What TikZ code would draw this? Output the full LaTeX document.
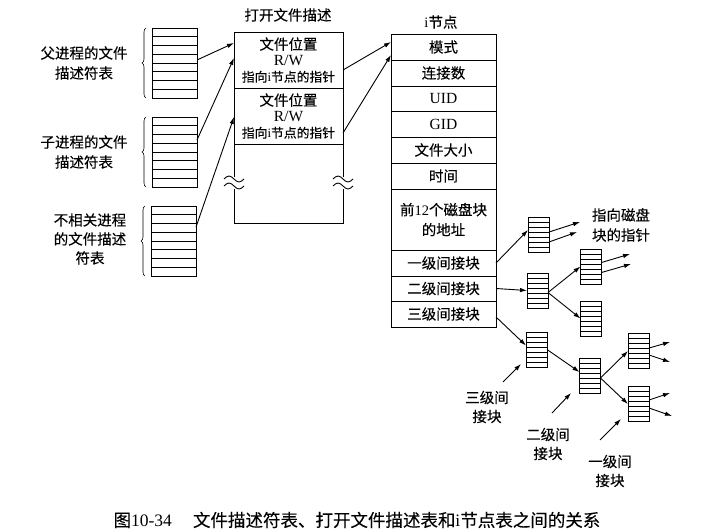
\documentclass[tikz,border=0pt]{standalone}
\usepackage{fontspec}
\setmainfont{Noto Sans CJK SC}[FakeBold=0.2]
\newfontfamily\lat{Liberation Serif}
\usetikzlibrary{calc,arrows.meta,decorations.pathreplacing}
\begin{document}
\begin{tikzpicture}[x=1pt,y=-1pt,
  every node/.style={inner sep=0pt, outer sep=0pt},
  txt/.style={font=\fontsize{14.5}{20}\selectfont, align=center},
  box/.style={draw, line width=0.9pt},
  lstack/.style={box, minimum width=45pt, minimum height=70pt,
    path picture={\foreach \k in {1,...,7}{\draw[line width=0.8pt]
      ($(path picture bounding box.north west)!\k/8!(path picture bounding box.south west)$) --
      ($(path picture bounding box.north east)!\k/8!(path picture bounding box.south east)$);}}},
  rstack/.style={box, minimum width=21pt, minimum height=35pt,
    path picture={\foreach \k in {1,...,6}{\draw[line width=0.8pt]
      ($(path picture bounding box.north west)!\k/7!(path picture bounding box.south west)$) --
      ($(path picture bounding box.north east)!\k/7!(path picture bounding box.south east)$);}}},
  cell/.style={box, minimum width=109pt, anchor=north west, txt},
  irow/.style={box, minimum width=105pt, anchor=north west, txt},
  arr/.style={-{Latex[length=7pt,width=4.5pt]}, line width=0.9pt},
  brc/.style={decorate, decoration={brace, amplitude=4pt}, line width=0.6pt}
]
\useasboundingbox (0,0) rectangle (713,530);

% left descriptor tables
\node[lstack] (T1) at (174.5,63) {};
\node[lstack] (T2) at (174.5,152) {};
\node[lstack] (T3) at (173.5,241) {};
\draw[brc] (146,98) -- (146,28);
\draw[brc] (146,187) -- (146,117);
\draw[brc] (145,276) -- (145,206);
\node[txt] (L1) at (84,63) {父进程的文件\\描述符表};
\node[txt] (L2) at (84,152) {子进程的文件\\描述符表};
\node[txt, font=\fontsize{14.5}{19}\selectfont] (L3) at (90,239) {不相关进程\\的文件描述\\符表};

% open file description table
\node[txt] (ofdt) at (288,15) {打开文件描述};
\node[cell, minimum height=56pt, font=\fontsize{14.5}{16}\selectfont] (ofd1) at (234,32)
  {文件位置\\{\lat\fontsize{15.5}{16}\selectfont R/W}\\{\fontsize{12.8}{16}\selectfont 指向{\lat i}节点的指针}};
\node[cell, minimum height=56pt, font=\fontsize{14.5}{16}\selectfont] (ofd2) at (234,88)
  {文件位置\\{\lat\fontsize{15.5}{16}\selectfont R/W}\\{\fontsize{12.8}{16}\selectfont 指向{\lat i}节点的指针}};
\node[cell, minimum height=79pt] (ofd3) at (234,144) {};
\foreach \xx in {234,343}{
  \fill[white] (\xx-3,176.5) rectangle (\xx+3,188.5);
  \foreach \yy in {179,186}
    \draw[line width=0.9pt] (\xx-10,\yy) sin (\xx-5,\yy-3) cos (\xx,\yy) sin (\xx+5,\yy+3) cos (\xx+10,\yy);
}

% i-node
\node[txt] (it) at (441,22) {{\lat i}节点};
\node[irow, minimum height=26pt] (mode) at (391,34) {模式};
\node[irow, minimum height=26pt] (links) at (391,60) {连接数};
\node[irow, minimum height=25pt, font=\lat\fontsize{15.5}{18}\selectfont] (uid) at (391,86) {UID};
\node[irow, minimum height=26pt, font=\lat\fontsize{15.5}{18}\selectfont] (gid) at (391,111) {GID};
\node[irow, minimum height=26pt] (size) at (391,137) {文件大小};
\node[irow, minimum height=26pt] (time) at (391,163) {时间};
\node[irow, minimum height=61pt] (addr) at (391,189) {前{\lat 12}个磁盘块\\的地址};
\node[irow, minimum height=26pt] (l1) at (391,250) {一级间接块};
\node[irow, minimum height=25pt] (l2) at (391,276) {二级间接块};
\node[irow, minimum height=26pt] (l3) at (391,301) {三级间接块};

% arrows left -> middle -> inode
\draw[arr] ($(T1.east)+(0,-3)$) -- ($(ofd1.north west)+(0,11)$);
\draw[arr] ($(T2.east)+(0,-12)$) -- ($(ofd1.north west)+(0,26)$);
\draw[arr] ($(T3.east)+(0,-14)$) -- ($(ofd2.north west)+(0,29)$);
\draw[arr] ($(ofd1.north east)+(0,38)$) -- ($(mode.north west)+(0,8)$);
\draw[arr] ($(ofd2.north east)+(0,45)$) -- ($(mode.north west)+(0,21)$);

% indirect blocks
\node[rstack] (A) at (538.5,235) {};
\node[rstack] (B) at (537.5,290.5) {};
\node[rstack] (C) at (591,266.5) {};
\node[rstack] (D) at (591,318.5) {};
\node[rstack] (E) at (536.5,349.5) {};
\node[rstack] (F) at (590,376) {};
\node[rstack] (G) at (638.5,351) {};
\node[rstack] (H) at (638.5,404) {};

\draw[arr] (l1.east) -- ($(A.west)+(0,-5)$);
\draw[arr] (l2.east) -- (B.west);
\draw[arr] ($(l3.east)+(0,3)$) -- ($(E.west)+(0,-4)$);
\draw[arr] ($(B.east)+(0,2)$) -- (C.west);
\draw[arr] ($(B.east)+(0,2)$) -- (D.west);
\draw[arr] (E.east) -- ($(F.west)+(0,-4)$);
\draw[arr] ($(F.east)+(0,2)$) -- (G.west);
\draw[arr] ($(F.east)+(0,2)$) -- (H.west);

\coordinate (a1) at (580,222); \coordinate (a2) at (577,232);
\coordinate (c1) at (630,254); \coordinate (c2) at (631,264);
\coordinate (g1) at (670,342); \coordinate (g2) at (670,362);
\coordinate (h1) at (670,393); \coordinate (h2) at (672,416);
\draw[arr] ($(A.east)+(0,-3)$) -- (a1);
\draw[arr] ($(A.east)+(0,7)$) -- (a2);
\draw[arr] ($(C.east)+(0,-4)$) -- (c1);
\draw[arr] ($(C.east)+(0,6)$) -- (c2);
\draw[arr] ($(G.east)+(0,-3)$) -- (g1);
\draw[arr] ($(G.east)+(0,4)$) -- (g2);
\draw[arr] ($(H.east)+(0,-4)$) -- (h1);
\draw[arr] ($(H.east)+(0,4)$) -- (h2);

\node[txt] (ptr) at (621,225) {指向磁盘\\块的指针};

% level labels
\node[txt, font=\fontsize{14.5}{19}\selectfont] (k3) at (487,407) {三级间\\接块};
\node[txt, font=\fontsize{14.5}{19}\selectfont] (k2) at (548,444) {二级间\\接块};
\node[txt, font=\fontsize{14.5}{19}\selectfont] (k1) at (610,471) {一级间\\接块};
\coordinate (p3s) at (503,382); \coordinate (p3e) at (521,364);
\coordinate (p2s) at (552,413); \coordinate (p2e) at (571,393);
\coordinate (p1s) at (600,440); \coordinate (p1e) at (621,419);
\draw[arr] (p3s) -- (p3e);
\draw[arr] (p2s) -- (p2e);
\draw[arr] (p1s) -- (p1e);

% caption
\node[font=\fontsize{17.5}{20}\selectfont] (cap) at (357,520)
  {图{\lat 10-34}\hspace{1.2em}文件描述符表、打开文件描述表和{\lat i}节点表之间的关系};
\end{tikzpicture}
\end{document}
